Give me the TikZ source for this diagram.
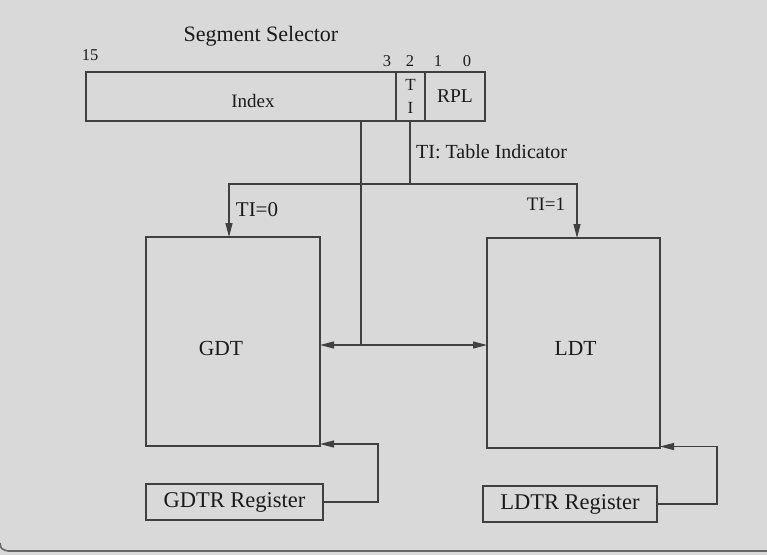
\documentclass[tikz,border=0pt]{standalone}
\usepackage{fontspec}
\setmainfont{Liberation Serif}
\usetikzlibrary{arrows.meta}
\definecolor{bg}{HTML}{D9D9D9}
\definecolor{ink}{HTML}{404040}
\definecolor{txt}{HTML}{1A1A1A}
\newcommand{\fs}[1]{\fontsize{#1}{#1}\selectfont}
\tikzset{
  box/.style={draw=ink, line width=1.2pt, rectangle, inner sep=0pt, outer sep=0pt, text=txt},
  lbl/.style={inner sep=0pt, text=txt},
  wire/.style={draw=ink, line width=1.2pt},
  tip/.tip={Triangle[length=14pt,width=7pt]},
  arr/.style={wire, -tip},
  darr/.style={wire, tip-tip},
}
\begin{document}
\begin{tikzpicture}[x=1pt,y=-1pt]
\fill[bg] (0,0) rectangle (767,555);
\useasboundingbox (0,0) rectangle (767,555);
\draw[ink!80, line width=1.6pt] (0,543) .. controls (1,549) .. (8,551) -- (767,551);

% selector
\node[lbl, font=\fs{22}] (title) at (261,36) {Segment Selector};
\node[lbl, font=\fs{16.5}] (b15) at (90,55) {15};
\node[lbl, font=\fs{16.5}] (b3) at (387,61) {3};
\node[lbl, font=\fs{16.5}] (b2) at (410,61) {2};
\node[lbl, font=\fs{16.5}] (b1) at (438,61) {1};
\node[lbl, font=\fs{16.5}] (b0) at (467,61) {0};

\node[box, minimum width=310pt, minimum height=49pt] (index) at (241,96.5) {};
\node[lbl, font=\fs{19}] (indextxt) at (253,101) {Index};
\node[box, minimum width=29pt, minimum height=49pt, align=center, font=\fs{17}] (ti) at (410.5,96.5) {T\\[6pt]I};
\node[box, minimum width=60pt, minimum height=49pt, font=\fs{19.5}] (rpl) at (455,96.5) {RPL};
\node[lbl, font=\fs{20}, anchor=west] (tinote) at (416,152) {TI: Table Indicator};

% tables
\node[box, minimum width=174pt, minimum height=209pt,
      label={[lbl, font=\fs{21.5}, xshift=-12pt, yshift=-7pt]center:GDT}] (gdt) at (233,341.5) {};
\node[box, minimum width=173pt, minimum height=210pt,
      label={[lbl, font=\fs{21.5}, xshift=2pt, yshift=-5pt]center:LDT}] (ldt) at (573.5,343) {};
\node[box, minimum width=177pt, minimum height=36pt, font=\fs{22.5}] (gdtr) at (234.5,502) {GDTR Register};
\node[box, minimum width=174pt, minimum height=36pt, font=\fs{22.5}] (ldtr) at (570,504) {LDTR Register};

\node[lbl, font=\fs{21}] (ti0) at (257,210) {TI=0};
\node[lbl, font=\fs{19}] (ti1) at (546,204) {TI=1};

% connectors
\coordinate (tisplit) at (410,184);
\coordinate (idxbot) at (361,121);
\coordinate (junc) at (361,345);
\draw[wire] (idxbot) -- (junc);
\draw[darr] (gdt.east |- junc) -- (ldt.west |- junc);
\draw[arr] (ti.south -| tisplit) -- (tisplit) -| ([xshift=-4pt]gdt.north);
\draw[arr] (tisplit) -| ([xshift=3.5pt]ldt.north);
\draw[arr] (gdtr.east) -- ++(55,0) |- ([yshift=2pt]gdt.south east);
\draw[arr] (ldtr.east) -- ++(60,0) |- ([yshift=1.5pt]ldt.south east);
\end{tikzpicture}
\end{document}
